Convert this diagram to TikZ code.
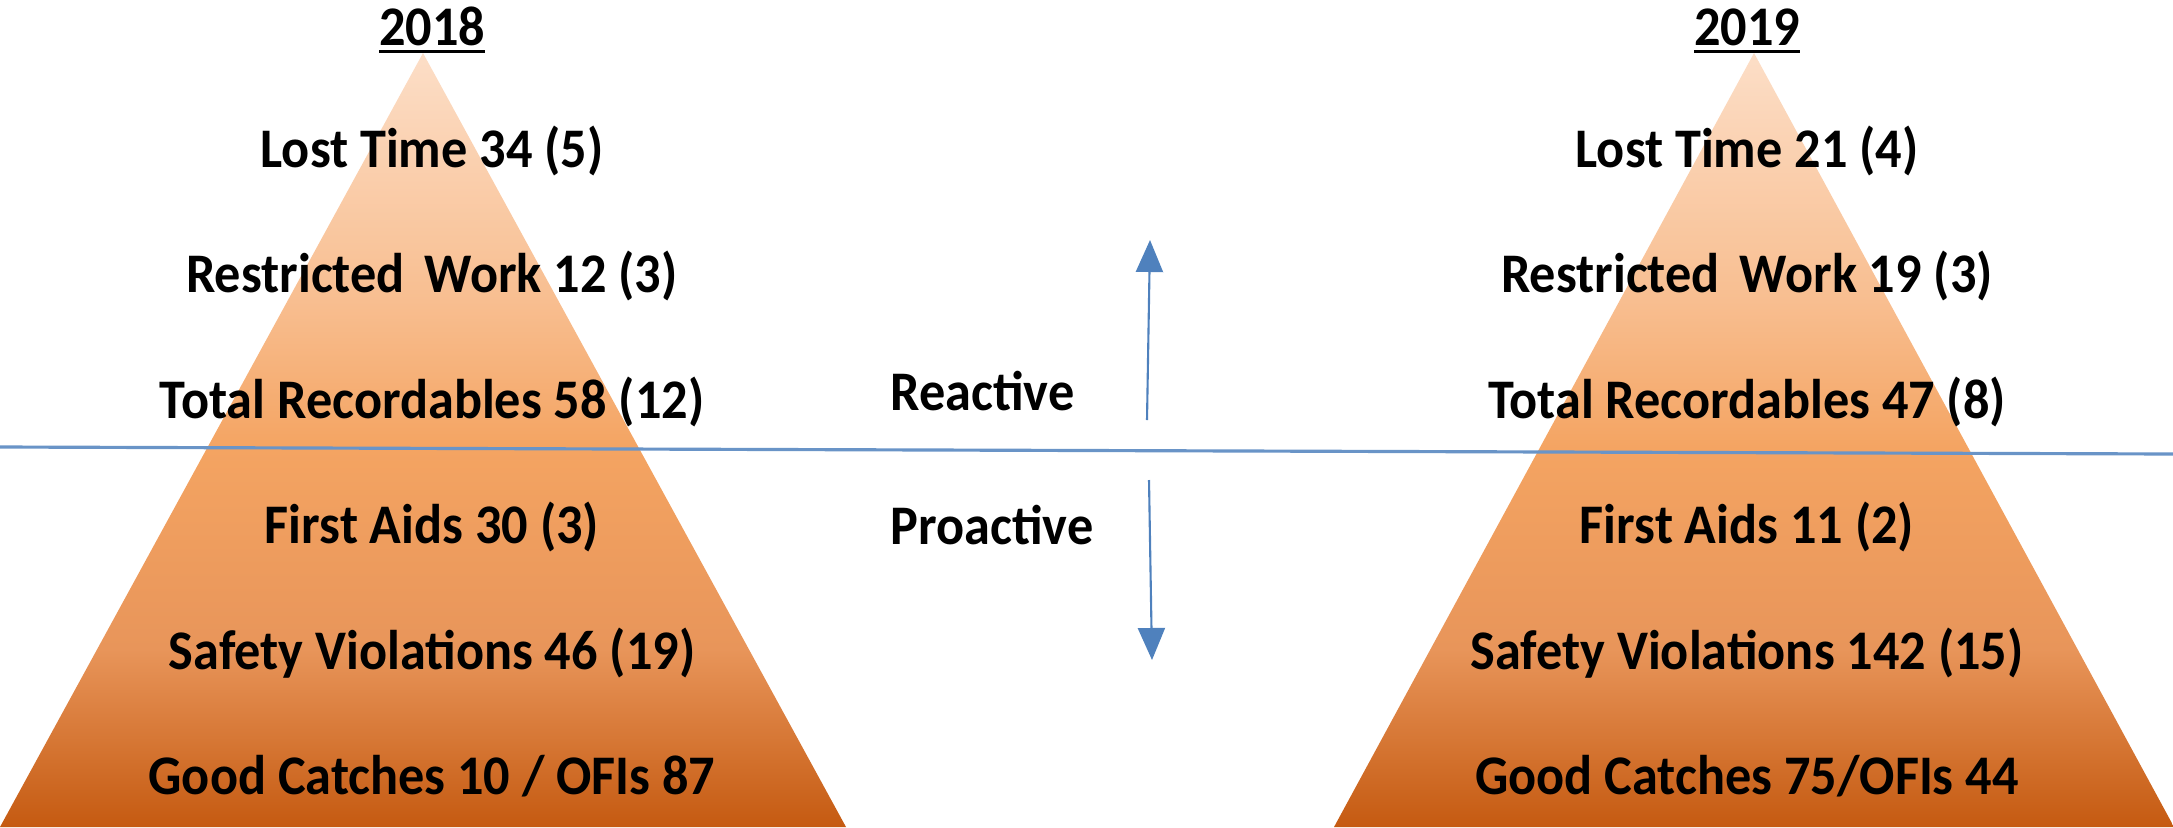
\documentclass[tikz,border=0pt]{standalone}
\usepackage{fontspec}
\setmainfont{Carlito}[FakeStretch=0.935]
\usetikzlibrary{arrows.meta, positioning}
\definecolor{pyrTop}{HTML}{FCDEC7}
\definecolor{pyrUpper}{HTML}{F8BE90}
\definecolor{pyrMid}{HTML}{F4A462}
\definecolor{pyrLower}{HTML}{E8955A}
\definecolor{pyrBase}{HTML}{C55A11}
\definecolor{myBlue}{HTML}{4F81BD}
\pgfdeclareverticalshading{pyramid}{100bp}{color(0bp)=(pyrBase); color(25bp)=(pyrBase); color(36.5bp)=(pyrLower); color(49.5bp)=(pyrMid); color(59bp)=(pyrUpper); color(75bp)=(pyrTop); color(100bp)=(pyrTop)}
\newcommand{\ulyear}[1]{\setbox0\hbox{#1}\rlap{\copy0}\rule[-2.3pt]{\wd0}{0.9pt}}

\begin{document}
\begin{tikzpicture}[
x=0.01cm, y=-0.01cm,
lbl/.style={font=\fontsize{15.9}{19}\selectfont\bfseries, anchor=base, inner sep=0pt},
pyr/.style={shading=pyramid},
arrow/.style={-{Triangle[width=2.7mm, length=3.2mm]}, line width=0.6pt, myBlue},
divider/.style={myBlue!85, line width=0.9pt}
]
\useasboundingbox (0,0) rectangle (2173,827);

% pyramids
\coordinate (apex18) at (423,53);
\coordinate (left18) at (0,827);
\coordinate (right18) at (846,827);
\coordinate (apex19) at (1754,53);
\coordinate (left19) at (1334,827);
\coordinate (right19) at (2174,827);
\shade[pyr] (apex18) -- (left18) -- (right18) -- cycle;
\shade[pyr] (apex19) -- (left19) -- (right19) -- cycle;

% years
\node[lbl] (year18) at (432,45) {\ulyear{2018}};
\node[lbl] (year19) at (1747,45) {\ulyear{2019}};

% 2018
\node[lbl] (lost18) at (432,167) {Lost Time 34 (5)};
\node[lbl] (restr18) at (432,292) {Restricted\hspace{0.15em} Work 12 (3)};
\node[lbl] (total18) at (432,418) {Total Recordables 58 (12)};
\node[lbl] (aid18) at (432,543) {First Aids 30 (3)};
\node[lbl] (viol18) at (432,669) {Safety Violations 46 (19)};
\node[lbl] (catch18) at (432,794) {Good Catches 10 / OFIs 87};

% 2019
\node[lbl] (lost19) at (1747,167) {Lost Time 21 (4)};
\node[lbl] (restr19) at (1747,292) {Restricted\hspace{0.15em} Work 19 (3)};
\node[lbl] (total19) at (1747,418) {Total Recordables 47 (8)};
\node[lbl] (aid19) at (1747,543) {First Aids 11 (2)};
\node[lbl] (viol19) at (1747,669) {Safety Violations 142 (15)};
\node[lbl] (catch19) at (1747,794) {Good Catches 75/OFIs 44};

% reactive / proactive
\node[lbl, anchor=base west] (reactive) at (890,410) {Reactive};
\node[lbl, anchor=base west] (proactive) at (890,544) {Proactive};

\coordinate (divL) at (0,447);
\coordinate (divR) at (2173,454);
\draw[divider] (divL) -- (divR);

\coordinate (upTail) at (1147,420);
\coordinate (upTip) at (1150,240);
\coordinate (downTail) at (1149,480);
\coordinate (downTip) at (1152,660);
\draw[arrow] (upTail) -- (upTip);
\draw[arrow] (downTail) -- (downTip);
\end{tikzpicture}
\end{document}
